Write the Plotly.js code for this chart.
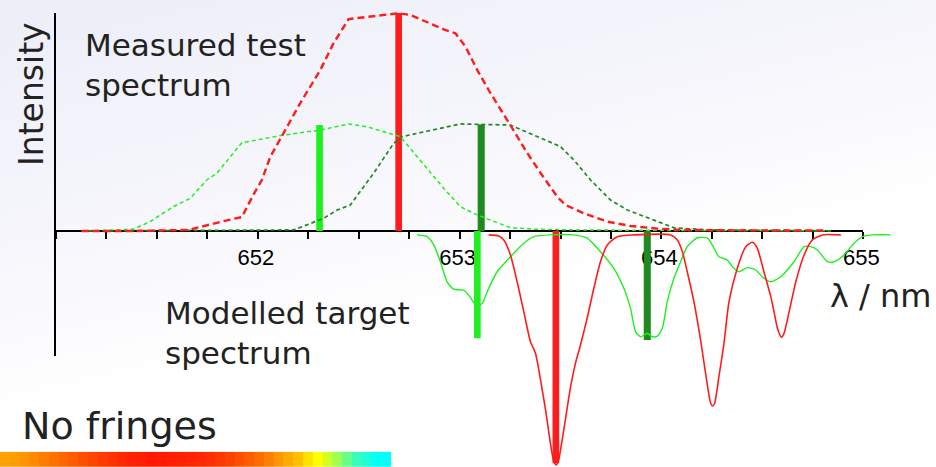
<!DOCTYPE html>
<html><head><meta charset="utf-8">
<script src="https://cdn.plot.ly/plotly-3.0.1.min.js"></script>
<style>html,body{margin:0;padding:0;background:#fff;}#chart{width:936px;height:467px;}</style>
</head><body><div id="chart"></div>
<script>
// ---- Measured test spectrum (wavelength / nm, relative intensity) ----
const measRedX = [651.127, 651.392, 651.656, 651.731, 651.847, 651.921, 651.979, 652.020, 652.062, 652.127, 652.210, 652.310, 652.375, 652.450, 652.541, 652.698, 652.756, 652.921, 652.979, 653.029, 653.087, 653.153, 653.236, 653.335, 653.401, 653.484, 653.525, 653.616, 653.732, 653.847, 653.980, 654.095, 654.343, 654.591, 654.823];
const measRedY = [0.000, 0.000, 0.005, 0.023, 0.049, 0.064, 0.168, 0.234, 0.341, 0.448, 0.586, 0.739, 0.861, 0.972, 0.983, 0.999, 0.991, 0.925, 0.907, 0.846, 0.739, 0.632, 0.509, 0.358, 0.266, 0.157, 0.119, 0.081, 0.043, 0.023, 0.011, 0.005, 0.003, 0.003, 0.002];

const measLightGreenX = [651.127, 651.383, 651.466, 651.582, 651.665, 651.747, 651.797, 651.921, 652.127, 652.310, 652.450, 652.541, 652.706, 652.789, 652.872, 652.921, 653.004, 653.070, 653.153, 653.252, 653.368, 653.565, 653.946, 654.442, 654.839];
const measLightGreenY = [0.000, 0.008, 0.043, 0.112, 0.150, 0.234, 0.265, 0.405, 0.440, 0.463, 0.491, 0.478, 0.433, 0.341, 0.249, 0.196, 0.111, 0.081, 0.050, 0.015, 0.008, 0.005, 0.003, 0.002, 0.001];

const measDarkGreenX = [651.127, 651.714, 652.177, 652.243, 652.326, 652.393, 652.458, 652.574, 652.673, 652.715, 652.872, 653.004, 653.252, 653.318, 653.500, 653.566, 653.649, 653.748, 653.831, 653.963, 654.062, 654.228, 654.839];
const measDarkGreenY = [0.000, 0.002, 0.005, 0.028, 0.058, 0.096, 0.119, 0.265, 0.402, 0.433, 0.463, 0.491, 0.486, 0.460, 0.387, 0.326, 0.234, 0.142, 0.096, 0.050, 0.015, 0.005, 0.001];

// ---- Modelled target spectrum (plotted downward) ----
const modLightGreenX = [652.789, 652.839, 652.872, 652.905, 652.938, 652.971, 653.020, 653.045, 653.073, 653.090, 653.112, 653.144, 653.186, 653.252, 653.318, 653.368, 653.450, 653.566, 653.632, 653.698, 653.764, 653.814, 653.847, 653.872, 653.897, 653.930, 653.955, 653.980, 654.005, 654.029, 654.062, 654.095, 654.128, 654.178, 654.228, 654.252, 654.285, 654.327, 654.352, 654.384, 654.426, 654.467, 654.508, 654.542, 654.591, 654.657, 654.707, 654.740, 654.773, 654.823, 654.856, 654.905, 654.955, 654.997, 655.054, 655.137];
const modLightGreenY = [-0.018, -0.026, -0.064, -0.141, -0.233, -0.267, -0.271, -0.294, -0.332, -0.344, -0.332, -0.263, -0.187, -0.118, -0.056, -0.026, -0.018, -0.018, -0.033, -0.095, -0.171, -0.263, -0.355, -0.462, -0.485, -0.469, -0.485, -0.482, -0.445, -0.324, -0.217, -0.141, -0.072, -0.031, -0.033, -0.064, -0.118, -0.133, -0.164, -0.187, -0.168, -0.179, -0.217, -0.233, -0.210, -0.141, -0.072, -0.072, -0.087, -0.141, -0.141, -0.110, -0.056, -0.026, -0.018, -0.018];

const modRedX = [653.144, 653.194, 653.219, 653.252, 653.285, 653.318, 653.351, 653.376, 653.401, 653.426, 653.450, 653.467, 653.480, 653.491, 653.516, 653.550, 653.574, 653.599, 653.632, 653.665, 653.698, 653.732, 653.781, 653.864, 654.046, 654.079, 654.104, 654.128, 654.161, 654.194, 654.219, 654.244, 654.254, 654.264, 654.285, 654.310, 654.335, 654.376, 654.418, 654.451, 654.475, 654.508, 654.542, 654.558, 654.575, 654.595, 654.608, 654.633, 654.666, 654.707, 654.748, 654.798, 654.889];
const modRedY = [-0.018, -0.023, -0.041, -0.110, -0.233, -0.370, -0.508, -0.561, -0.683, -0.821, -0.974, -1.058, -1.073, -1.050, -0.913, -0.714, -0.607, -0.523, -0.400, -0.263, -0.141, -0.064, -0.026, -0.018, -0.018, -0.041, -0.095, -0.187, -0.324, -0.500, -0.653, -0.790, -0.803, -0.790, -0.668, -0.515, -0.324, -0.171, -0.072, -0.052, -0.079, -0.187, -0.301, -0.370, -0.446, -0.488, -0.469, -0.370, -0.233, -0.110, -0.041, -0.018, -0.018];

// ---- Line positions (sticks): measured (up) and modelled (down) ----
const stickLightGreenX = [652.306, 653.088];
const stickLightGreenY = [0.486, -0.492];
const stickRedX = [652.698, 653.477];
const stickRedY = [1.000, -1.065];
const stickDarkGreenX = [653.107, 653.930];
const stickDarkGreenY = [0.489, -0.500];

// ---- Axis ticks ----
const tickVals = [652, 653, 654, 655];
const tickText = ['652', '653', '654', '655'];

// ---- Colour strip ("No fringes") ----
const stripZ = [[0.62, 0.63, 0.65, 0.68, 0.71, 0.74, 0.77, 0.80, 0.83, 0.86, 0.89, 0.92, 0.95, 0.97, 0.98, 1.00, 0.99, 0.98, 0.97, 0.96, 0.95, 0.93, 0.90, 0.87, 0.83, 0.79, 0.75, 0.70, 0.65, 0.60, 0.55, 0.48, 0.42, 0.35, 0.28, 0.20, 0.13, 0.07, 0.02, 0.00]];

const W = 936, H = 467;
const px = v => v / W;
const py = v => 1 - v / H;

const RED = '#ff1c1c', LG = '#1ef01e', DG = '#1f8a1f';
const TXT = '#222222';
const FONT = 'DejaVu Sans, Verdana, sans-serif';

const traces = [
  // dummy trace for the visible axes subplot
  {x: [653], y: [0], xaxis: 'x', yaxis: 'y', mode: 'markers', marker: {opacity: 0}, hoverinfo: 'skip', showlegend: false},
  // sticks
  {type: 'bar', x: stickLightGreenX, y: stickLightGreenY, width: 0.033, marker: {color: LG, line: {width: 0}}, xaxis: 'x2', yaxis: 'y2', showlegend: false},
  {type: 'bar', x: stickRedX, y: stickRedY, width: 0.033, marker: {color: RED, line: {width: 0}}, xaxis: 'x2', yaxis: 'y2', showlegend: false},
  {type: 'bar', x: stickDarkGreenX, y: stickDarkGreenY, width: 0.035, marker: {color: DG, line: {width: 0}}, xaxis: 'x2', yaxis: 'y2', showlegend: false},
  // measured (dashed)
  {x: measLightGreenX, y: measLightGreenY, mode: 'lines', line: {color: LG, width: 1.5, dash: '4px,3px'}, xaxis: 'x2', yaxis: 'y2', showlegend: false},
  {x: measDarkGreenX, y: measDarkGreenY, mode: 'lines', line: {color: DG, width: 1.7, dash: '4px,3px'}, xaxis: 'x2', yaxis: 'y2', showlegend: false},
  {x: measRedX, y: measRedY, mode: 'lines', line: {color: RED, width: 2.4, dash: '7px,4px'}, xaxis: 'x2', yaxis: 'y2', showlegend: false},
  // modelled (solid)
  {x: modLightGreenX, y: modLightGreenY, mode: 'lines', line: {color: LG, width: 1.4, shape: 'spline', smoothing: 0.6}, xaxis: 'x2', yaxis: 'y2', showlegend: false},
  {x: modRedX, y: modRedY, mode: 'lines', line: {color: RED, width: 1.6, shape: 'spline', smoothing: 0.6}, xaxis: 'x2', yaxis: 'y2', showlegend: false},
  // colour strip
  {type: 'heatmap', z: stripZ, xaxis: 'x3', yaxis: 'y3', zmin: 0, zmax: 1, showscale: false, hoverinfo: 'skip',
   colorscale: [[0, '#00ffff'], [0.15, '#40ffb0'], [0.3, '#b0ff40'], [0.42, '#ffff00'], [0.55, '#ffc000'], [0.7, '#ff8000'], [0.85, '#ff4800'], [1, '#ff1800']]}
];

const bgSvg = '<svg xmlns="http://www.w3.org/2000/svg" width="936" height="467" viewBox="0 0 936 467" preserveAspectRatio="none">' +
  '<defs><linearGradient id="g" gradientUnits="userSpaceOnUse" x1="0" y1="0" x2="110" y2="467">' +
  '<stop offset="0" stop-color="#eceef8"/><stop offset="0.5" stop-color="#f6f6fc"/><stop offset="0.85" stop-color="#ffffff"/>' +
  '</linearGradient></defs><rect width="936" height="467" fill="url(#g)"/></svg>';

const layout = {
  width: W, height: H, autosize: false,
  margin: {l: 0, r: 0, t: 0, b: 0, pad: 0},
  paper_bgcolor: '#ffffff', plot_bgcolor: 'rgba(0,0,0,0)',
  showlegend: false, barmode: 'overlay',
  images: [{source: 'data:image/svg+xml;charset=utf-8,' + encodeURIComponent(bgSvg),
            xref: 'paper', yref: 'paper', x: 0, y: 1, sizex: 1, sizey: 1,
            xanchor: 'left', yanchor: 'top', sizing: 'stretch', layer: 'below'}],
  // visible axes
  xaxis: {domain: [px(56), px(863.3)], range: [651, 655], anchor: 'free', position: py(231),
          showline: true, linecolor: '#000', linewidth: 2, showgrid: false, zeroline: false,
          tickmode: 'array', tickvals: tickVals, ticktext: tickText,
          ticks: 'outside', ticklen: 7, tickwidth: 2, tickcolor: '#000', ticklabelshift: -2,
          minor: {tickmode: 'linear', tick0: 651, dtick: 0.25, ticks: 'outside', ticklen: 7, tickwidth: 2, tickcolor: '#000', showgrid: false},
          tickfont: {family: 'Liberation Sans, Arial, sans-serif', size: 22, color: '#000'}, fixedrange: true},
  yaxis: {domain: [py(356), py(13)], range: [-0.573, 1.0], anchor: 'free', position: px(55.3),
          showline: true, linecolor: '#000', linewidth: 2, showgrid: false, zeroline: false,
          ticks: '', showticklabels: false, fixedrange: true},
  // data axes (full page, hidden)
  xaxis2: {domain: [0, 1], range: [650.7225, 655.3607], anchor: 'y2', visible: false, fixedrange: true},
  yaxis2: {domain: [0, 1], range: [-1.0826, 1.0596], anchor: 'x2', visible: false, fixedrange: true},
  // colour strip axes
  xaxis3: {domain: [0, px(391)], anchor: 'y3', visible: false, fixedrange: true},
  yaxis3: {domain: [0, 15.3 / H], anchor: 'x3', visible: false, fixedrange: true},
  annotations: [
    {text: 'Intensity', xref: 'paper', yref: 'paper', x: px(31.5), y: py(94.5), xanchor: 'center', yanchor: 'middle',
     textangle: -90, showarrow: false, font: {family: FONT, size: 33, color: TXT}},
    {text: 'Measured test<br>spectrum', xref: 'paper', yref: 'paper', x: px(83), y: py(25), xanchor: 'left', yanchor: 'top',
     align: 'left', showarrow: false, font: {family: FONT, size: 31, color: TXT}},
    {text: 'Modelled target<br>spectrum', xref: 'paper', yref: 'paper', x: px(163), y: py(293), xanchor: 'left', yanchor: 'top',
     align: 'left', showarrow: false, font: {family: FONT, size: 31, color: TXT}},
    {text: 'No fringes', xref: 'paper', yref: 'paper', x: px(20), y: py(402), xanchor: 'left', yanchor: 'top',
     align: 'left', showarrow: false, font: {family: FONT, size: 38, color: TXT}},
    {text: 'λ / nm', xref: 'paper', yref: 'paper', x: px(828), y: py(275), xanchor: 'left', yanchor: 'top',
     align: 'left', showarrow: false, font: {family: FONT, size: 32, color: TXT}}
  ]
};

Plotly.newPlot('chart', traces, layout, {staticPlot: true, displayModeBar: false});
</script>
</body></html>
